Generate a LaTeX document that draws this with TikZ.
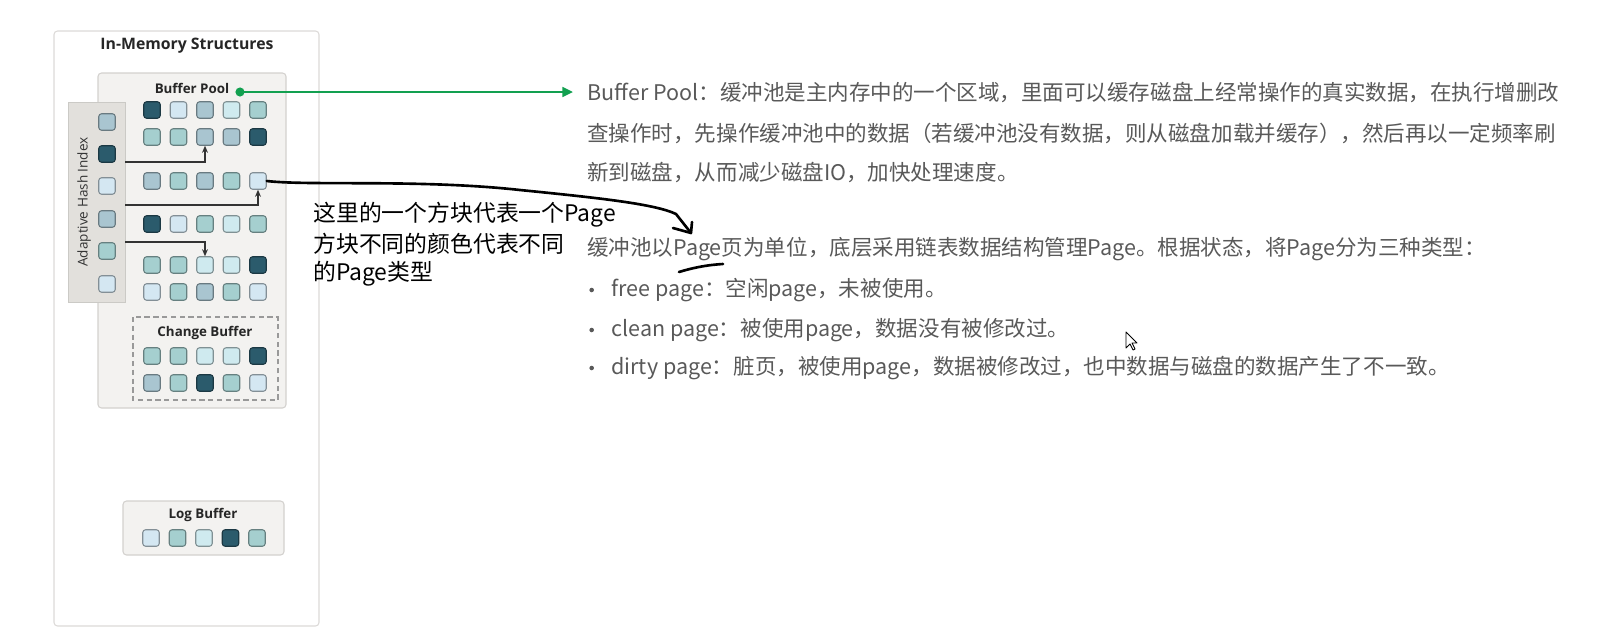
\documentclass[tikz,border=0pt]{standalone}
\usepackage{fontspec}
\setmainfont{Open Sans}
\newfontfamily\cjk{Noto Sans CJK SC}
\usetikzlibrary{arrows.meta}
\definecolor{pgdark}{HTML}{2B5B6C}
\definecolor{pgteal}{HTML}{A5CFCF}
\definecolor{pgblue}{HTML}{A9C5D0}
\definecolor{pgpale}{HTML}{D4E7F2}
\definecolor{pgcyan}{HTML}{CFEAEF}
\definecolor{boxline}{HTML}{D3D1CE}
\definecolor{panelfill}{HTML}{F3F2F0}
\definecolor{ahifill}{HTML}{E2E0DC}
\definecolor{ptrgray}{HTML}{333333}
\definecolor{txtgray}{HTML}{595959}
\definecolor{pgreen}{HTML}{12A050}

\begin{document}
\begin{tikzpicture}[x=0.02cm, y=-0.02cm,
    pg/.style={draw=#1!62!black, fill=#1, line width=0.6pt, rounded corners=1.6pt, minimum size=0.33cm, inner sep=0pt},
    panel/.style={draw=boxline, fill=panelfill, line width=0.6pt, rounded corners=2pt},
    ptr/.style={draw=ptrgray, line width=0.6pt, -{Stealth[length=4pt,width=3.4pt]}},
    lbl/.style={font=\bfseries\fontsize{7.6}{9}\selectfont, text=black!85},
    note/.style={anchor=west, inner sep=0pt, text=txtgray, font=\cjk\fontsize{12.25}{14}\selectfont},
    hand/.style={anchor=west, inner sep=0pt, font=\cjk\fontsize{13}{15}\selectfont},
    ink/.style={line width=1.5pt, line cap=round, line join=round}]
    \useasboundingbox (0,0) rectangle (1599,640);

    \draw[draw=boxline!80, fill=white, line width=0.6pt, rounded corners=2pt] (54,31) rectangle (319,626);
    \node[lbl, font=\bfseries\fontsize{9}{11}\selectfont] (title) at (187,46) {In-Memory Structures};

    \draw[panel] (98,73) rectangle (286,408);
    \node[lbl] (bplabel) at (192,88) {Buffer Pool};
    \draw[fill=ahifill, draw=ahifill!90!black, line width=0.4pt] (68,102) rectangle (125,302);
    \node[rotate=90, font=\fontsize{7.7}{9}\selectfont, text=black!80] (ahilabel) at (84,202) {Adaptive Hash Index};
    \draw[draw=black!40, dash pattern=on 3pt off 2pt, line width=0.6pt] (133,317) rectangle (278,400);
    \node[lbl] (cblabel) at (205,333) {Change Buffer};
    \draw[panel] (123,501) rectangle (284,555);
    \node[lbl] (loglabel) at (203,515) {Log Buffer};

    \foreach \y/\k [count=\r] in {122/pgblue, 154/pgdark, 186/pgpale, 219/pgblue, 251/pgteal, 284/pgpale}
        \node[pg=\k] (ahi\r) at (107,\y) {};

    \foreach \r/\y/\cols in {1/110/{pgdark,pgpale,pgblue,pgcyan,pgteal},
                             2/137/{pgteal,pgteal,pgblue,pgblue,pgdark},
                             3/181/{pgblue,pgteal,pgblue,pgteal,pgpale},
                             4/224/{pgdark,pgpale,pgteal,pgcyan,pgteal},
                             5/265/{pgteal,pgteal,pgcyan,pgcyan,pgdark},
                             6/292/{pgpale,pgteal,pgblue,pgteal,pgpale},
                             7/356/{pgteal,pgteal,pgcyan,pgcyan,pgdark},
                             8/383/{pgblue,pgteal,pgdark,pgteal,pgpale}}
        \foreach \k [count=\c] in \cols
            \node[pg=\k] (bp\r\c) at ({125.5+26.5*\c},\y) {};

    \foreach \k [count=\c] in {pgpale,pgteal,pgcyan,pgdark,pgteal}
        \node[pg=\k] (log\c) at ({124.5+26.5*\c},538) {};

    \coordinate (h1) at (125,162);
    \coordinate (h2) at (125,205);
    \coordinate (h3) at (125,242);
    \draw[ptr] (h1) -| (bp23.south);
    \draw[ptr] (h2) -| (bp35.south);
    \draw[ptr] (h3) -| (bp53.north);

    \node[note] (d1) at (587,92) {Buffer Pool：缓冲池是主内存中的一个区域，里面可以缓存磁盘上经常操作的真实数据，在执行增删改};
    \node[note] (d2) at (587,133) {查操作时，先操作缓冲池中的数据（若缓冲池没有数据，则从磁盘加载并缓存），然后再以一定频率刷};
    \node[note] (d3) at (587,172) {新到磁盘，从而减少磁盘IO，加快处理速度。};
    \node[note] (p1) at (587,249) {缓冲池以Page页为单位，底层采用链表数据结构管理Page。根据状态，将Page分为三种类型：};
    \node[note] (b1) at (611,290) {free page：空闲page，未被使用。};
    \node[note] (b2) at (611,330) {clean page：被使用page，数据没有被修改过。};
    \node[note] (b3) at (611,368) {dirty page：脏页，被使用page，数据被修改过，也中数据与磁盘的数据产生了不一致。};
    \foreach \b in {b1,b2,b3}
        \fill[txtgray] ([xshift=-11pt]\b.west) circle (1.3pt);

    \coordinate (gdot) at (240,92);
    \fill[pgreen] (gdot) circle (2.6pt);
    \draw[pgreen, line width=1.3pt, shorten >=8pt, -{Triangle[length=6pt,width=5.5pt]}] (gdot) -- (d1.west);

    \node[hand] (n1) at (313,215) {这里的一个方块代表一个Page};
    \node[hand] (n2) at (313,244) {方块不同的颜色代表不同};
    \node[hand] (n3) at (313,274) {的Page类型};
    \coordinate (tip) at (691,233);
    \draw[ink] (bp35.east) .. controls (310,186) and (420,179) .. (520,190) .. controls (600,198) and (655,204) .. (676,214) -- (tip);
    \draw[ink] (673,228) -- (tip) -- (692,222);
    \draw[ink] (679,272) .. controls (692,268) and (706,265) .. (723,264);

    \draw[black, fill=white, line width=0.5pt, line join=round] (1126,332) -- (1126,348) -- (1130,344) -- (1133,350) -- (1135,349) -- (1132,343) -- (1137,343) -- cycle;
\end{tikzpicture}
\end{document}
